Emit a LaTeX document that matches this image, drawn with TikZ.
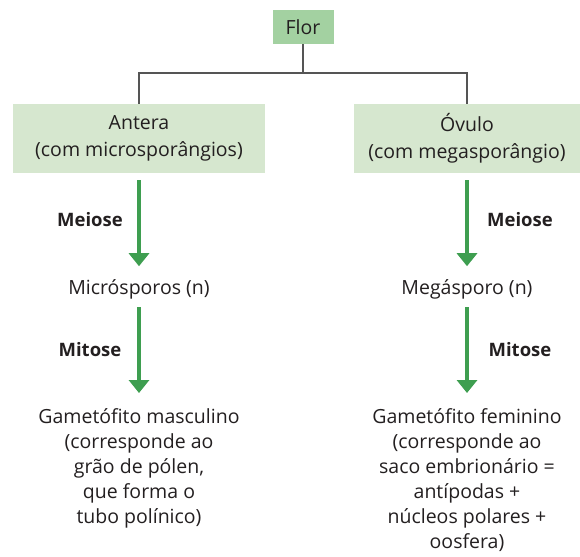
\documentclass[tikz,border=0pt]{standalone}
\usepackage{fontspec}
\setmainfont{Open Sans}
\usetikzlibrary{arrows.meta}

\definecolor{florfill}{RGB}{163,209,161}
\definecolor{boxfill}{RGB}{214,231,207}
\definecolor{setacor}{RGB}{62,158,80}
\definecolor{linha}{RGB}{85,85,85}
\definecolor{texto}{RGB}{35,31,32}

\tikzset{
  caixa/.style={fill=boxfill, text=texto, align=center, minimum height=69pt, inner sep=0pt},
  rotulo/.style={text=texto, align=center, inner sep=0pt},
  passo/.style={text=texto, font=\fontsize{18.5}{22}\selectfont\bfseries, inner sep=0pt},
  seta/.style={draw=setacor, line width=3.5pt, -{Triangle[width=20pt,length=13pt]}},
  ramo/.style={draw=linha, line width=1.3pt}
}

\begin{document}
\begin{tikzpicture}[x=1pt, y=1pt, font=\fontsize{19.5}{25}\selectfont]
	\useasboundingbox (0,0) rectangle (580,-556);

	% topo
	\node[fill=florfill, text=texto, minimum width=61pt, minimum height=34pt, inner sep=0pt] (flor) at (303,-27) {Flor};
	\coordinate (split) at (303,-73);
	\node[caixa, minimum width=252pt, font=\fontsize{19.5}{27}\selectfont] (antera) at (139,-138.5) {Antera\\(com microsporângios)};
	\node[caixa, minimum width=226pt, font=\fontsize{19.5}{27}\selectfont] (ovulo) at (467,-138.5) {Óvulo\\(com megasporângio)};
	\draw[ramo] (flor) -- (split);
	\draw[ramo] (split) -| (antera);
	\draw[ramo] (split) -| (ovulo);

	% lado masculino
	\node[rotulo] (micro) at (139,-289) {Micrósporos (n)};
	\node[rotulo, anchor=north] (gmasc) at (139,-408) {Gametófito masculino\\(corresponde ao\\grão de pólen,\\que forma o\\tubo polínico)};
	\draw[seta] (antera.south) ++(0,-7) -- ++(0,-86) coordinate (fimA);
	\draw[seta] (micro.south) ++(0,-8) -- ++(0,-86) coordinate (fimB);
	\node[passo] (meiL) at (90,-220) {Meiose};
	\node[passo] (mitL) at (90,-350) {Mitose};

	% lado feminino
	\node[rotulo] (mega) at (467,-289) {Megásporo (n)};
	\node[rotulo, anchor=north] (gfem) at (467,-408) {Gametófito feminino\\(corresponde ao\\saco embrionário =\\antípodas +\\núcleos polares +\\oosfera)};
	\draw[seta] (ovulo.south) ++(0,-7) -- ++(0,-86) coordinate (fimC);
	\draw[seta] (mega.south) ++(0,-8) -- ++(0,-86) coordinate (fimD);
	\node[passo] (meiR) at (520,-220) {Meiose};
	\node[passo] (mitR) at (520,-350) {Mitose};
\end{tikzpicture}
\end{document}
